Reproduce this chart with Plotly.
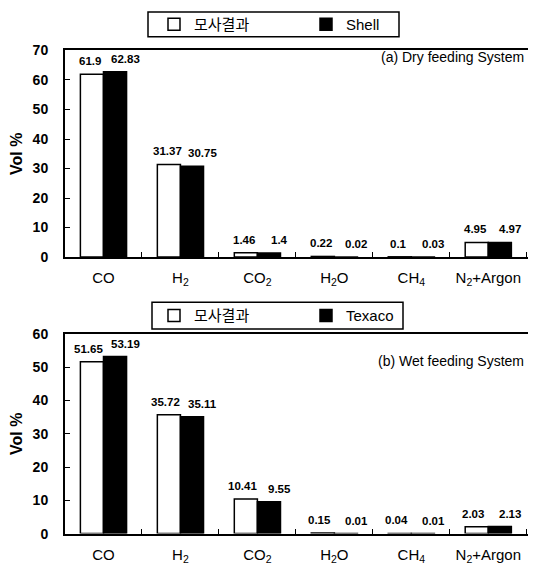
import plotly.graph_objects as go

categories = ["CO", "H<sub>2</sub>", "CO<sub>2</sub>", "H<sub>2</sub>O", "CH<sub>4</sub>", "N<sub>2</sub>+Argon"]

dry_sim = [61.9, 31.37, 1.46, 0.22, 0.1, 4.95]
dry_shell = [62.83, 30.75, 1.4, 0.02, 0.03, 4.97]
wet_sim = [51.65, 35.72, 10.41, 0.15, 0.04, 2.03]
wet_texaco = [53.19, 35.11, 9.55, 0.01, 0.01, 2.13]

sim_name = "모사결과"
OFF = 8  # default page body margin
W, H = 536 - OFF, 571 - OFF
FONT = "Liberation Sans, Arial, Noto Sans CJK KR, sans-serif"

def px_x(p):
    return (p - OFF) / W

def px_y(p):
    return 1 - (p - OFF) / H

fig = go.Figure()

def bar(y, name, fill, xa, ya, legend, show=True):
    return go.Bar(
        x=categories, y=y, name=name, xaxis=xa, yaxis=ya, legend=legend,
        marker=dict(color=fill, line=dict(color="black", width=1.5)),
        showlegend=show,
    )

fig.add_trace(bar(dry_sim, sim_name, "white", "x", "y", "legend"))
fig.add_trace(bar(dry_shell, "Shell", "black", "x", "y", "legend"))
fig.add_trace(bar(wet_sim, sim_name, "white", "x2", "y2", "legend2"))
fig.add_trace(bar(wet_texaco, "Texaco", "black", "x2", "y2", "legend2"))

annotations = []
def labels(vals, xref, yref, xshift):
    for c, v in zip(categories, vals):
        annotations.append(dict(
            x=c, y=v, xref=xref, yref=yref, text=f"{v:g}", showarrow=False,
            yanchor="bottom", xanchor="center", yshift=5, xshift=xshift,
            font=dict(family=FONT, size=11.5, color="black", weight="bold"),
        ))

labels(dry_sim, "x", "y", -13)
labels(dry_shell, "x", "y", 22)
labels(wet_sim, "x2", "y2", -15)
labels(wet_texaco, "x2", "y2", 22)

annotations.append(dict(x=px_x(526), y=px_y(49), xref="paper", yref="paper",
                        text="(a) Dry feeding System", showarrow=False,
                        xanchor="right", yanchor="middle",
                        font=dict(family=FONT, size=14, color="black")))
annotations.append(dict(x=px_x(526), y=px_y(358), xref="paper", yref="paper",
                        text="(b) Wet feeding System", showarrow=False,
                        xanchor="right", yanchor="middle",
                        font=dict(family=FONT, size=14, color="black")))

# legend frames
shapes = [
    dict(type="rect", xref="paper", yref="paper", x0=px_x(148), x1=px_x(399),
         y0=px_y(28), y1=px_y(3), line=dict(color="black", width=1.5)),
    dict(type="rect", xref="paper", yref="paper", x0=px_x(152), x1=px_x(403),
         y0=px_y(325), y1=px_y(298), line=dict(color="black", width=1.5)),
]

xdom = [px_x(65), 1.0]
xcommon = dict(
    type="category", range=[-0.5, 5.62], showline=True, linecolor="black", linewidth=2,
    mirror=True, ticks="inside", tickson="boundaries", ticklen=5, tickcolor="black",
    tickfont=dict(family=FONT, size=15, color="black"), showgrid=False, automargin=False,
    domain=xdom, ticklabelstandoff=6,
)
ycommon = dict(
    showline=True, linecolor="black", linewidth=2, ticks="inside", ticklen=5,
    tickcolor="black", dtick=10, showgrid=False, zeroline=False, automargin=False,
    ticklabelstandoff=12,
    tickfont=dict(family=FONT, size=14, color="black", weight="bold"),
    title=dict(text="Vol %", font=dict(family=FONT, size=16, color="black", weight="bold"),
               standoff=14),
)

legcommon = dict(orientation="h", xanchor="left", yanchor="middle",
                 borderwidth=0, bgcolor="rgba(0,0,0,0)",
                 entrywidth=107, font=dict(family=FONT, size=15, color="black"),
                 traceorder="normal")

fig.update_layout(
    width=W, height=H,
    margin=dict(l=0, r=0, t=0, b=0),
    paper_bgcolor="white", plot_bgcolor="white",
    barmode="group", bargap=0.4, bargroupgap=0,
    font=dict(family=FONT, color="black"),
    xaxis=dict(**xcommon, anchor="y"),
    yaxis=dict(**ycommon, range=[0, 70], domain=[px_y(252), px_y(42)], anchor="x"),
    xaxis2=dict(**xcommon, anchor="y2"),
    yaxis2=dict(**ycommon, range=[0, 60], domain=[px_y(533), px_y(330)], anchor="x2"),
    legend=dict(**legcommon, x=px_x(154), y=px_y(15.5)),
    legend2=dict(**legcommon, x=px_x(154), y=px_y(311.5)),
    annotations=annotations,
    shapes=shapes,
)

fig.write_html("out.html")
